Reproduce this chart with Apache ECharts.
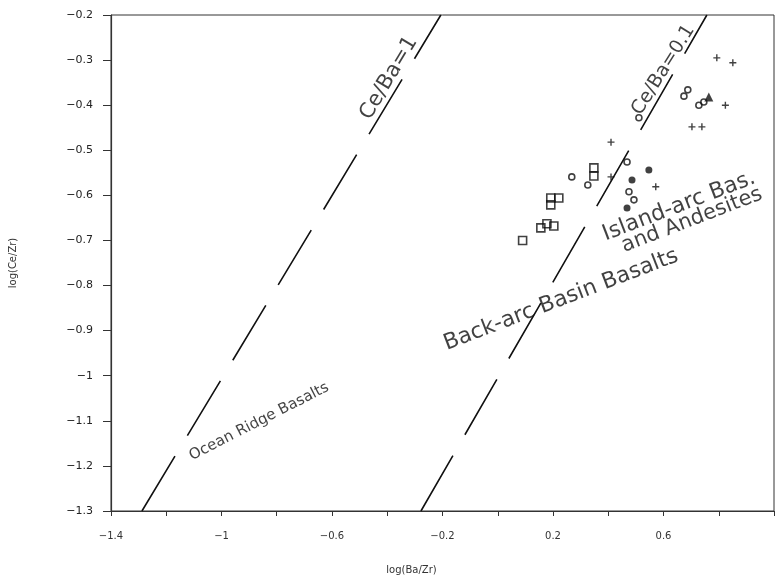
<!DOCTYPE html>
<html>
<head>
<meta charset="utf-8">
<script src="https://cdn.jsdelivr.net/npm/echarts@6/dist/echarts.min.js"></script>
<style>
html,body{margin:0;padding:0;background:#fff;}
#chart{width:777px;height:584px;}
</style>
</head>
<body>
<div id="chart"></div>
<script>
// ---- data ----
var xTickLabels = ['-1.4', '-1', '-0.6', '-0.2', '0.2', '0.6'];

var squaresX = [0.09, 0.156, 0.178, 0.203, 0.192, 0.192, 0.221, 0.348, 0.348];
var squaresY = [-0.70, -0.672, -0.663, -0.668, -0.621, -0.606, -0.606, -0.539, -0.557];

var circlesX = [0.268, 0.326, 0.511, 0.468, 0.475, 0.493, 0.674, 0.688, 0.728, 0.746];
var circlesY = [-0.559, -0.577, -0.428, -0.526, -0.592, -0.610, -0.380, -0.366, -0.400, -0.393];

var plusX = [0.410, 0.410, 0.572, 0.793, 0.851, 0.824, 0.703, 0.739];
var plusY = [-0.482, -0.559, -0.581, -0.295, -0.306, -0.400, -0.448, -0.448];

var filledX = [0.547, 0.486, 0.468];
var filledY = [-0.544, -0.566, -0.628];

var triangleX = [0.764];
var triangleY = [-0.382];

// reference lines (Ce/Ba = 1 and Ce/Ba = 0.1)
var lineCeBa1X = [-1.288, -0.206];
var lineCeBa1Y = [-1.3, -0.2];
var lineCeBa01X = [-0.278, 0.757];
var lineCeBa01Y = [-1.3, -0.2];

// annotations
var noteText = ['Ce/Ba=1', 'Ce/Ba=0.1', 'Ocean Ridge Basalts', 'Back-arc Basin Basalts', 'Island-arc Bas.', 'and Andesites'];
var noteX = [-0.394, 0.600, -0.864, 0.229, 0.656, 0.703];
var noteY = [-0.340, -0.322, -1.102, -0.832, -0.624, -0.655];
var noteAngle = [59, 58, 27, 21, 21, 21];
var noteSize = [21, 19, 15, 22, 22, 21];

function zip(a, b) { return a.map(function (v, i) { return [v, b[i]]; }); }

var ink = '#111';
var plusPath = 'path://M4,0H6V10H4Z M0,4H10V6H0Z';

var chart = echarts.init(document.getElementById('chart'));
chart.setOption({
  animation: false,
  backgroundColor: '#fff',
  grid: { left: 110, right: 2, top: 15, bottom: 73, show: true, borderColor: '#333', borderWidth: 1 },
  xAxis: {
    type: 'value', min: -1.4, max: 1.0, interval: 0.2,
    name: 'log(Ba/Zr)', nameLocation: 'middle', nameGap: 54,
    nameTextStyle: { fontFamily: 'DejaVu Sans', fontSize: 10, color: '#333', padding: [0, 62, 0, 0] },
    axisLine: { onZero: false, lineStyle: { color: '#333', width: 1.2 } },
    axisTick: { inside: false, length: 5, lineStyle: { color: '#333' } },
    splitLine: { show: false },
    axisLabel: {
      margin: 20, fontFamily: 'DejaVu Sans', fontSize: 10, color: '#333',
      formatter: function (v) {
        var s = String(Number(v.toFixed(2)));
        return xTickLabels.indexOf(s) >= 0 ? s.replace('-', '\u2212') : '';
      }
    }
  },
  yAxis: {
    type: 'value', min: -1.3, max: -0.2, interval: 0.1,
    name: 'log(Ce/Zr)', nameLocation: 'middle', nameGap: 93, nameRotate: 90,
    nameTextStyle: { fontFamily: 'DejaVu Sans', fontSize: 10, color: '#333' },
    axisLine: { onZero: false, lineStyle: { color: '#333', width: 1.2 } },
    axisTick: { inside: false, length: 8, lineStyle: { color: '#333' } },
    splitLine: { show: false },
    axisLabel: {
      margin: 18, fontFamily: 'DejaVu Sans', fontSize: 11, color: '#222',
      formatter: function (v) { return String(Number(v.toFixed(2))).replace('-', '\u2212'); }
    }
  },
  series: [
    { type: 'line', data: zip(lineCeBa1X, lineCeBa1Y), symbol: 'none', silent: true,
      lineStyle: { color: ink, width: 1.6, type: [64, 24] } },
    { type: 'line', data: zip(lineCeBa01X, lineCeBa01Y), symbol: 'none', silent: true,
      lineStyle: { color: ink, width: 1.6, type: [64, 24] } },
    { type: 'scatter', data: zip(squaresX, squaresY), symbol: 'rect', symbolSize: 8,
      itemStyle: { color: 'transparent', borderColor: ink, borderWidth: 1.6 } },
    { type: 'scatter', data: zip(circlesX, circlesY), symbol: 'circle', symbolSize: 6,
      itemStyle: { color: 'transparent', borderColor: ink, borderWidth: 1.6 } },
    { type: 'scatter', data: zip(plusX, plusY), symbol: plusPath, symbolSize: 7,
      itemStyle: { color: ink } },
    { type: 'scatter', data: zip(filledX, filledY), symbol: 'circle', symbolSize: 7,
      itemStyle: { color: ink } },
    { type: 'scatter', data: zip(triangleX, triangleY), symbol: 'triangle', symbolSize: 9,
      itemStyle: { color: ink } },
    { type: 'scatter', symbolSize: 0, silent: true,
      data: noteText.map(function (t, i) {
        return {
          value: [noteX[i], noteY[i]],
          label: { show: true, formatter: t, rotate: noteAngle[i], position: 'inside',
                   fontFamily: 'DejaVu Sans', fontSize: noteSize[i], color: ink }
        };
      })
    }
  ]
});
</script>
</body>
</html>
